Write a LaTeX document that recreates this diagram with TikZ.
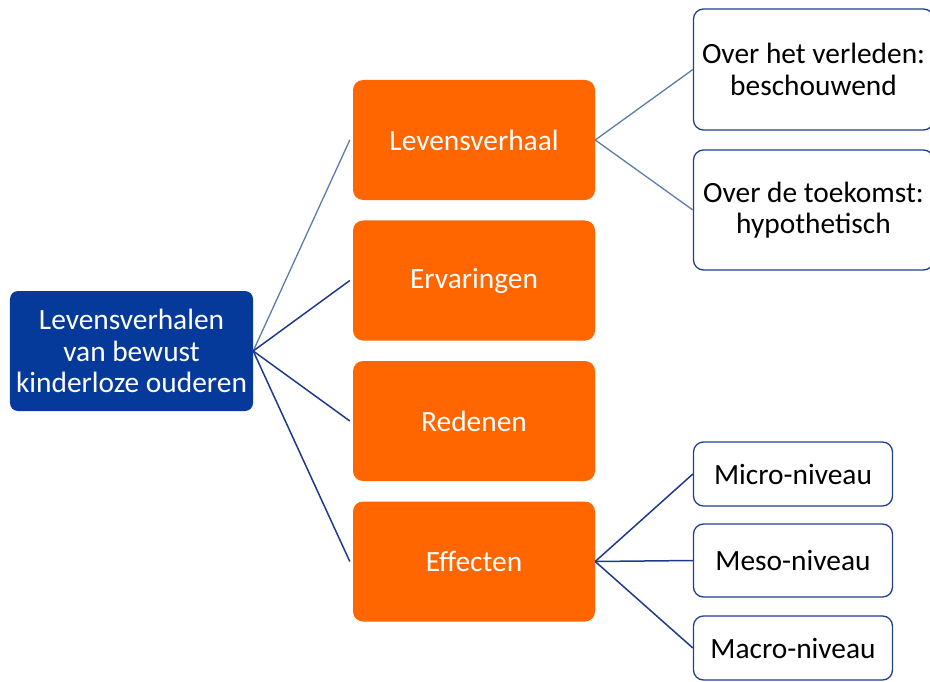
\documentclass[tikz,border=0pt]{standalone}
\usepackage{fontspec}
\setmainfont{Carlito}
\definecolor{rootblue}{HTML}{063A9A}
\definecolor{orng}{HTML}{FF6600}
\definecolor{lightln}{HTML}{5B7DA8}
\definecolor{darkln}{HTML}{1F3A8C}
\definecolor{bordblue}{HTML}{23408F}
\begin{document}
\begin{tikzpicture}[x=1bp,y=-1bp,
  every node/.style={font=\fontsize{29.5}{31.5}\selectfont, align=center, inner sep=0pt},
  rootbox/.style={fill=rootblue, text=white, rounded corners=8bp},
  orangebox/.style={fill=orng, text=white, rounded corners=10bp},
  leafbox/.style={draw=bordblue, line width=1.3bp, fill=white, text=black, rounded corners=10bp},
  lightconn/.style={draw=lightln, line width=1.3bp},
  darkconn/.style={draw=darkln, line width=1.5bp}]
\useasboundingbox (0,0) rectangle (930,682);
% root
\node[rootbox, minimum width=243bp, minimum height=120bp] (root) at (131.5,351) {Levensverhalen\\van bewust\\kinderloze ouderen};
% orange
\node[orangebox, minimum width=242bp, minimum height=120bp] (lv) at (474,140) {Levensverhaal};
\node[orangebox, minimum width=242bp, minimum height=120bp] (er) at (474,280.5) {Ervaringen};
\node[orangebox, minimum width=242bp, minimum height=120bp] (re) at (474,421) {Redenen};
\node[orangebox, minimum width=242bp, minimum height=120bp] (ef) at (474,561.5) {Effecten};
% top right leaves
\node[leafbox, minimum width=240bp, minimum height=121bp] (ov) at (813.5,69.5) {Over het verleden:\\beschouwend};
\node[leafbox, minimum width=240bp, minimum height=120bp] (ot) at (813.5,210) {Over de toekomst:\\hypothetisch};
% bottom right leaves
\node[leafbox, minimum width=199bp, minimum height=64bp] (mi) at (793,474) {Micro-niveau};
\node[leafbox, minimum width=199bp, minimum height=73bp] (me) at (793,560.5) {Meso-niveau};
\node[leafbox, minimum width=199bp, minimum height=64bp] (ma) at (793,648) {Macro-niveau};
% connectors
\draw[lightconn] (root.east) -- ([xshift=-3bp]lv.west);
\draw[darkconn] (root.east) -- ([xshift=-3bp]er.west);
\draw[darkconn] (root.east) -- ([xshift=-3bp]re.west);
\draw[darkconn] (root.east) -- ([xshift=-3bp]ef.west);
\draw[lightconn] (lv.east) -- (ov.west);
\draw[lightconn] (lv.east) -- (ot.west);
\draw[darkconn] (ef.east) -- (mi.west);
\draw[darkconn] (ef.east) -- (me.west);
\draw[darkconn] (ef.east) -- (ma.west);
\end{tikzpicture}
\end{document}
